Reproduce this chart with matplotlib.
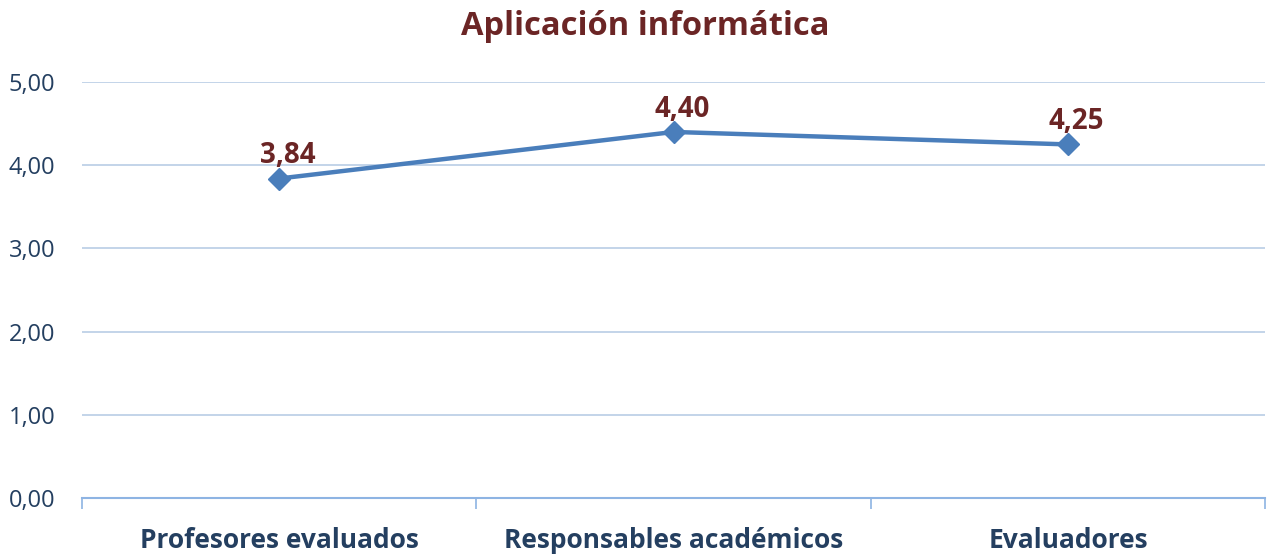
import matplotlib
matplotlib.use('Agg')
import matplotlib.pyplot as plt

categories = ['Profesores evaluados', 'Responsables académicos', 'Evaluadores']
values = [3.84, 4.40, 4.25]
yticks = [0, 1, 2, 3, 4, 5]

plt.rcParams['font.family'] = ['Open Sans', 'DejaVu Sans']

fig = plt.figure(figsize=(12.67, 5.58), dpi=100)
ax = fig.add_axes([0.0647, 0.1075, 0.934, 0.7455])

x = [i + 0.5 for i in range(len(categories))]
ax.plot(x, values, color='#4A7EBB', linewidth=3.2, marker='D', markersize=11,
        markeredgecolor='#4A7EBB', markerfacecolor='#4A7EBB', zorder=3)

for xi, v in zip(x, values):
    ax.annotate(f'{v:.2f}'.replace('.', ','), (xi, v), xytext=(6, 11),
                textcoords='offset points', ha='center', va='baseline',
                fontsize=20, fontweight='bold', color='#6B2525')

ax.set_xlim(0, len(categories))
ax.set_ylim(0, 5)
ax.set_yticks(yticks)
ax.set_yticklabels([f'{t:.2f}'.replace('.', ',') for t in yticks],
                   fontsize=17, color='#243F60')
ax.yaxis.grid(True, color='#B9CDE5', linewidth=1.2)
ax.set_axisbelow(True)
ax.tick_params(axis='y', length=0, pad=19)

ax.set_xticks(range(len(categories) + 1))
ax.set_xticklabels([])
ax.set_xticks(x, minor=True)
ax.set_xticklabels(categories, minor=True, fontsize=19, fontweight='bold',
                   color='#243F60')
ax.tick_params(axis='x', which='major', length=8, color='#8EB4E3', width=1.2)
ax.tick_params(axis='x', which='minor', length=0, pad=21)

for s in ['top', 'right', 'left']:
    ax.spines[s].set_visible(False)
ax.spines['bottom'].set_color('#8EB4E3')
ax.spines['bottom'].set_linewidth(1.5)

fig.text(0.509, 0.952, 'Aplicación informática', ha='center', va='center',
         fontsize=23.5, fontweight='bold', color='#6B2525')

fig.savefig('out.png', dpi=100)
